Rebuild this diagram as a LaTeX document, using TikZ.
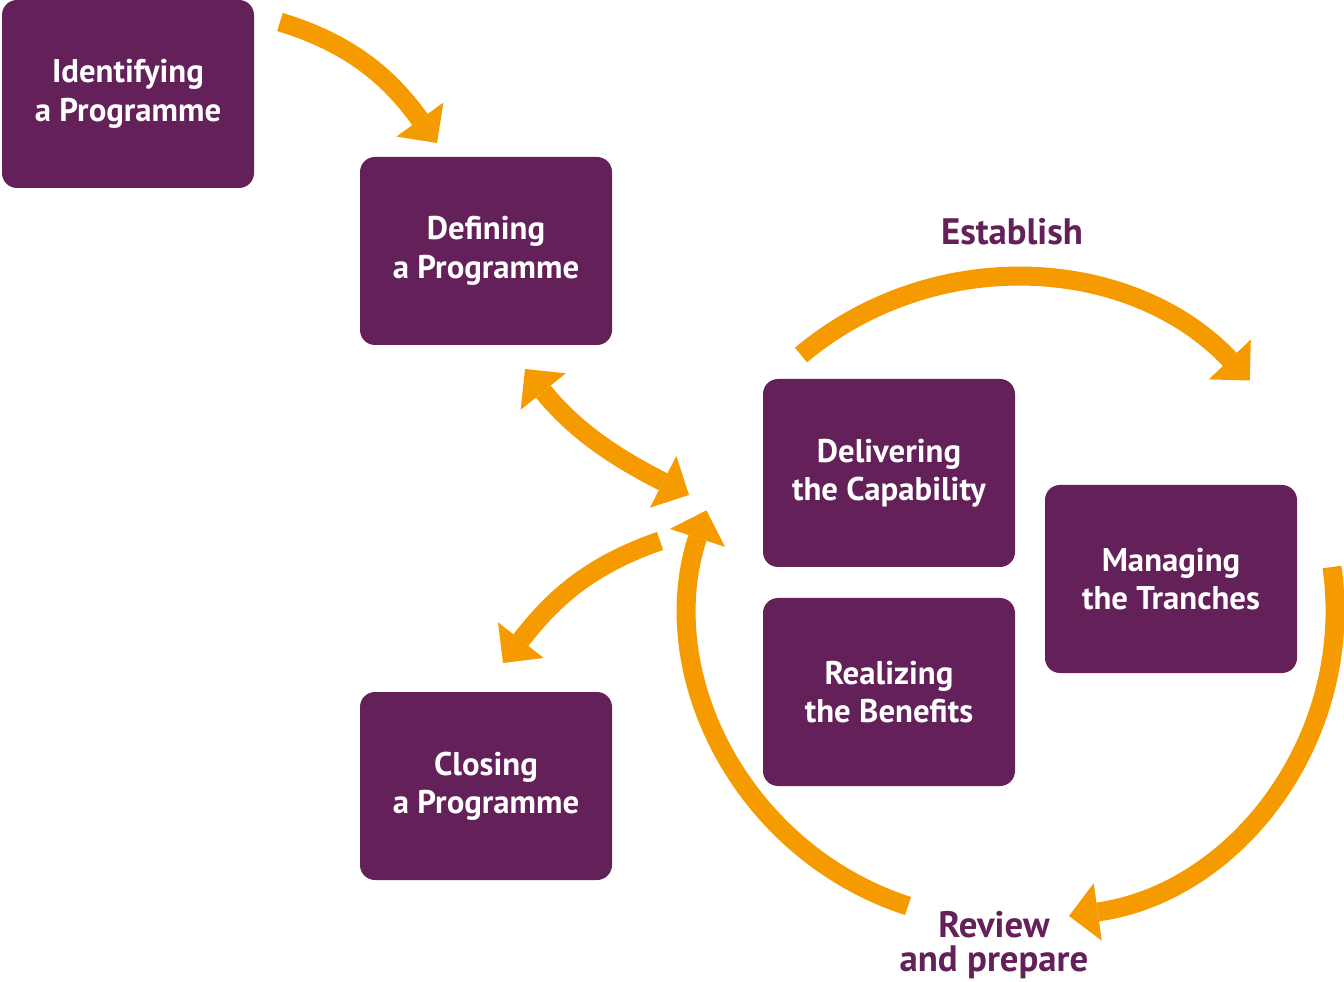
\documentclass[tikz,border=0pt]{standalone}
\usepackage{fontspec}
\setmainfont{PT Sans}
\usetikzlibrary{arrows.meta}

\definecolor{plum}{RGB}{99,32,89}
\definecolor{amber}{RGB}{245,155,0}

\tikzset{
    stage/.style={
        rectangle,
        rounded corners=7.5pt,
        fill=plum,
        text=white,
        minimum width=126pt,
        minimum height=94pt,
        inner sep=0pt,
        align=center,
        font=\bfseries\fontsize{16.4}{19.2}\selectfont
    },
    flow/.style={
        amber,
        line width=9.5pt,
        -{Triangle[length=14.5pt,width=29pt,line width=0pt]}
    },
    twoway/.style={
        flow,
        {Triangle[length=14.5pt,width=29pt,line width=0pt]}-{Triangle[length=14.5pt,width=29pt,line width=0pt]}
    },
    cue/.style={
        text=plum,
        align=center,
        inner sep=0pt,
        font=\bfseries\fontsize{18.4}{17}\selectfont
    }
}

\begin{document}
\begin{tikzpicture}[x=0.5pt,y=0.5pt]
    \useasboundingbox (0,0) rectangle (1344,981);

    % the stages
    \node[stage] (ident) at (128,887) {Identifying\\a Programme};
    \node[stage] (defin) at (486,730) {Defining\\a Programme};
    \node[stage] (deliv) at (889,508) {Delivering\\the Capability};
    \node[stage] (tranch) at (1171,402) {Managing\\the Tranches};
    \node[stage] (realiz) at (889,289) {Realizing\\the Benefits};
    \node[stage] (closing) at (486,195) {Closing\\a Programme};

    % the loop labels
    \node[cue] (establish) at (1012,749) {Establish};
    \node[cue] (review) at (994,36) {Review\\and prepare};

    % free ends of the arrows
    \coordinate (idOut) at (280,959);
    \coordinate (deIn) at (437,838);
    \coordinate (deTip) at (525,612);
    \coordinate (hubTip) at (689,486);
    \coordinate (hubOut) at (660,440);
    \coordinate (clIn) at (503,318);
    \coordinate (estOut) at (801,626);
    \coordinate (mgOut) at (1332,414);
    \coordinate (rvOut) at (908,75);

    \draw[flow] (idOut) to [out=-17,in=126] (deIn);
    \draw[twoway] (deTip) to [out=-51,in=153] (hubTip);
    \draw[flow] (hubOut) to [out=199,in=52] (clIn);

    % the tranche loop
    \draw[flow] (estOut) arc[start angle=130,end angle=43.5,radius=328];
    \draw[flow] (mgOut) arc[start angle=8,end angle=-82,radius=309];
    \draw[flow] (rvOut) arc[start angle=252,end angle=162,radius=314];
\end{tikzpicture}
\end{document}
